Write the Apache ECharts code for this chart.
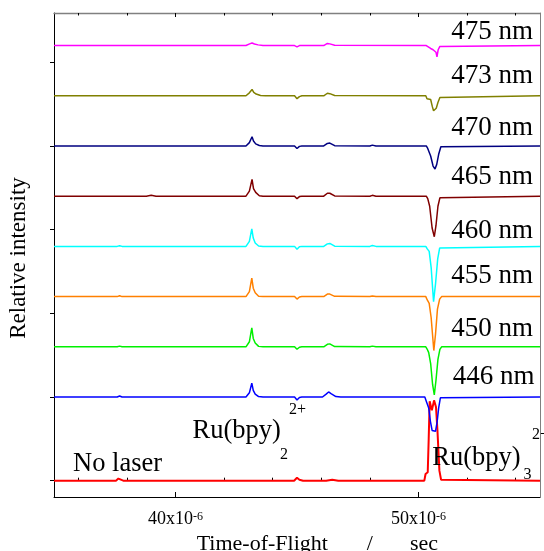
<!DOCTYPE html>
<html>
<head>
<meta charset="utf-8">
<script src="https://cdn.jsdelivr.net/npm/echarts@6/dist/echarts.min.js"></script>
<style>
html, body { margin: 0; padding: 0; background: #fff; }
#chart { width: 544px; height: 551px; }
</style>
</head>
<body>
<div id="chart"></div>
<script>
// ---- Axis values (time of flight in microseconds, intensity in arbitrary units) ----
const timeMin = 35;
const timeMax = 55;
const timeMajorTicks = [40, 50];
const timeMinorTicks = [36, 38, 42, 44, 46, 48, 52, 54];
const intensityTicks = [0, 1, 2, 3, 4, 5];
const intensityMin = -0.195;
const intensityMax = 5.589;

// ---- Traces, bottom to top; each point is [time (us), relative signal] ----
const traceNames = ['No laser', '446 nm', '450 nm', '455 nm', '460 nm', '465 nm', '470 nm', '473 nm', '475 nm'];
const traceOffsets = [0, 1.0, 1.6, 2.2, 2.8, 3.4, 4.0, 4.6, 5.2];

const noLaser = [[35,0],[37.55,0],[37.65,0.025],[37.72,0.008],[37.85,0],[44.88,0],[45.0,0.035],[45.1,0.012],[45.25,0],
  [46.2,0],[46.45,0.012],[46.7,0],[50.24,0],[50.29,0.08],[50.38,0.1],[50.42,0.5],[50.46,0.95],[50.55,0.84],
  [50.64,0.96],[50.72,0.88],[50.78,0.6],[50.86,0.12],[50.93,0.01],[51.0,0],[55,0]];

const nm446 = [[35,0],[37.6,0],[37.7,0.012],[37.8,0],[42.9,0],[43.04,0.05],[43.14,0.165],[43.2,0.08],[43.28,0.035],
  [43.42,0.005],[43.6,0],[44.9,0],[45.0,-0.035],[45.1,-0.005],[45.2,0],[46.05,0],[46.2,0.035],[46.3,0.06],[46.4,0.04],
  [46.6,0.005],[46.8,0],[50.26,0],[50.32,-0.05],[50.42,-0.13],[50.49,-0.29],[50.56,-0.4],[50.7,-0.41],[50.77,-0.29],
  [50.83,-0.13],[50.9,-0.01],[50.98,0],[55,0]];

const nm450 = [[35,0],[37.6,0],[37.7,0.008],[37.8,0],[42.9,0],[43.04,0.06],[43.14,0.227],[43.2,0.1],[43.28,0.045],
  [43.42,0.005],[43.6,0],[44.9,0],[45.0,-0.03],[45.1,-0.005],[45.2,0],[46.1,0],[46.25,0.03],[46.35,0.035],[46.55,0.003],
  [48.0,0],[48.1,0.008],[48.25,0],[50.3,0],[50.36,-0.03],[50.42,-0.07],[50.5,-0.2],[50.58,-0.45],[50.65,-0.575],
  [50.72,-0.4],[50.8,-0.15],[50.88,-0.03],[50.95,0],[55,0]];

const nm455 = [[35,0],[37.6,0],[37.7,0.01],[37.8,0],[42.9,0],[43.04,0.06],[43.14,0.22],[43.2,0.1],[43.28,0.045],
  [43.42,0.005],[43.6,0],[44.9,0],[45.0,-0.03],[45.1,-0.005],[45.2,0],[46.1,0],[46.25,0.03],[46.35,0.03],[46.55,0.003],
  [48.0,0],[48.1,0.008],[48.25,0],[50.3,0],[50.36,-0.04],[50.44,-0.08],[50.52,-0.25],[50.63,-0.645],[50.7,-0.45],
  [50.78,-0.15],[50.87,-0.03],[50.95,0],[55,0]];

const nm460 = [[35,0],[37.6,0],[37.7,0.008],[37.8,0],[42.9,0],[43.04,0.06],[43.14,0.21],[43.2,0.1],[43.28,0.04],
  [43.42,0.005],[43.6,0],[44.9,0],[45.0,-0.035],[45.1,-0.005],[45.2,0],[46.1,0],[46.25,0.03],[46.35,0.035],[46.55,0.003],
  [48.0,0],[48.1,0.01],[48.25,0],[50.3,0],[50.36,-0.03],[50.44,-0.06],[50.52,-0.25],[50.62,-0.66],[50.7,-0.45],
  [50.79,-0.15],[50.87,-0.02],[50.95,0],[55,0]];

const nm465 = [[35,0],[38.8,0],[39.0,0.01],[39.2,0],[42.9,0],[43.04,0.06],[43.15,0.2],[43.21,0.09],[43.3,0.045],
  [43.45,0.005],[43.6,0],[44.9,0],[45.0,-0.03],[45.1,-0.005],[45.2,0],[46.1,0],[46.25,0.035],[46.35,0.035],[46.55,0.003],
  [48.0,0],[48.1,0.01],[48.25,0],[50.32,0],[50.38,-0.03],[50.46,-0.12],[50.56,-0.38],[50.65,-0.485],[50.72,-0.35],
  [50.8,-0.12],[50.88,-0.02],[50.95,0],[55,0]];

const nm470 = [[35,0],[42.9,0],[43.04,0.04],[43.15,0.11],[43.21,0.06],[43.3,0.025],[43.45,0.005],[43.6,0],
  [44.9,0],[45.0,-0.03],[45.1,-0.005],[45.2,0],[46.1,0],[46.25,0.03],[46.35,0.035],[46.55,0.003],
  [48.0,0],[48.1,0.01],[48.25,0],[50.32,0],[50.38,-0.03],[50.5,-0.12],[50.6,-0.24],[50.68,-0.275],[50.75,-0.22],
  [50.83,-0.1],[50.92,-0.01],[51.0,0],[55,0]];

const nm473 = [[35,0],[42.9,0],[43.04,0.035],[43.15,0.075],[43.22,0.04],[43.32,0.02],[43.5,0.003],[43.7,0],
  [44.9,0],[45.0,-0.035],[45.1,-0.01],[45.2,0],[46.1,0],[46.25,0.03],[46.35,0.025],[46.55,0.003],
  [50.3,0],[50.35,-0.035],[50.5,-0.045],[50.57,-0.13],[50.62,-0.18],[50.68,-0.17],[50.73,-0.15],[50.8,-0.08],
  [50.88,-0.02],[50.96,0],[55,0]];

const nm475 = [[35,0],[42.9,0],[43.05,0.02],[43.15,0.03],[43.25,0.018],[43.4,0.008],[43.6,0],
  [44.9,0],[45.0,-0.015],[45.1,0],[46.1,0],[46.25,0.025],[46.35,0.02],[46.55,0.003],
  [50.32,0],[50.38,-0.015],[50.5,-0.035],[50.6,-0.05],[50.66,-0.035],[50.72,-0.08],[50.76,-0.135],[50.81,-0.05],
  [50.88,-0.01],[50.95,0],[55,0]];

const traces = [noLaser, nm446, nm450, nm455, nm460, nm465, nm470, nm473, nm475];

// ---- Styling ----
const traceColors = ['#ff0000', '#0000ff', '#00f000', '#ff8000', '#00ffff', '#800000', '#000080', '#808000', '#ff00ff'];
const traceWidths = [2, 1.5, 1.5, 1.5, 1.5, 1.5, 1.5, 1.5, 1.5];
const serif = '"Liberation Serif", "Times New Roman", serif';

const series = traces.map((pts, i) => ({
  name: traceNames[i],
  type: 'line',
  xAxisIndex: 0,
  yAxisIndex: 0,
  data: pts.map(([t, v]) => [t, v + traceOffsets[i]]),
  showSymbol: false,
  symbol: 'none',
  silent: true,
  z: 2 + i,
  lineStyle: { color: traceColors[i], width: traceWidths[i] },
  itemStyle: { color: traceColors[i] }
}));

// Text annotations: [text, x, y, align, fontSize]
const annotations = [
  ['475 nm', 533, 31.9, 'right', 27],
  ['473 nm', 533, 76.4, 'right', 27],
  ['470 nm', 533, 128.3, 'right', 27],
  ['465 nm', 533, 176.9, 'right', 27],
  ['460 nm', 533, 231.1, 'right', 27],
  ['455 nm', 533, 276.4, 'right', 27],
  ['450 nm', 533, 329.0, 'right', 27],
  ['446 nm', 534.5, 376.9, 'right', 27],
  ['No laser', 73, 464.3, 'left', 26.5],
  ['Ru(bpy)', 192.5, 431.0, 'left', 26.5],
  ['2', 280, 454.6, 'left', 16],
  ['2+', 289, 409.6, 'left', 16],
  ['Ru(bpy)', 432.2, 457.7, 'left', 26.5],
  ['3', 523.6, 474.6, 'left', 16],
  ['2+', 532, 434.3, 'left', 16],
  ['Time-of-Flight', 196.7, 544, 'left', 22],
  ['/', 366.7, 544, 'left', 22],
  ['sec', 410, 544, 'left', 22]
];

const graphic = annotations.map(([text, x, y, align, size]) => ({
  type: 'text',
  x: x,
  y: y,
  silent: true,
  z: 100,
  style: {
    text: text,
    fill: '#000',
    font: size + 'px ' + serif,
    align: align,
    verticalAlign: 'middle'
  }
}));
graphic.push({
  type: 'text',
  x: 19,
  y: 258,
  rotation: Math.PI / 2,
  silent: true,
  z: 100,
  style: {
    text: 'Relative intensity',
    fill: '#000',
    font: '23px ' + serif,
    align: 'center',
    verticalAlign: 'middle'
  }
});

const gridRect = { left: 54, right: 4, top: 13, bottom: 54 };

function timeAxis(gridIndex, position, opts) {
  return Object.assign({
    type: 'value',
    gridIndex: gridIndex,
    position: position,
    min: timeMin,
    max: timeMax,
    splitLine: { show: false },
    axisLabel: { show: false },
    axisLine: { show: false },
    axisTick: { show: false }
  }, opts);
}

const option = {
  animation: false,
  backgroundColor: '#fff',
  grid: [
    Object.assign({}, gridRect),
    Object.assign({}, gridRect)
  ],
  xAxis: [
    timeAxis(0, 'bottom', {
      axisLine: { show: true, onZero: false, lineStyle: { color: '#000', width: 1 } },
      axisTick: { show: true, inside: true, length: 5, customValues: timeMajorTicks, lineStyle: { color: '#000' } },
      axisLabel: {
        show: true,
        customValues: timeMajorTicks,
        margin: 13.5,
        formatter: v => '{m|' + v + 'x10}{s|-6}',
        rich: {
          m: { fontFamily: serif, fontSize: 18, lineHeight: 18, color: '#000' },
          s: { fontFamily: serif, fontSize: 12, lineHeight: 7, verticalAlign: 'top', color: '#000' }
        }
      }
    }),
    timeAxis(0, 'top', {
      axisLine: { show: true, onZero: false, lineStyle: { color: '#808080', width: 1.3 } },
      axisTick: { show: true, inside: true, length: 4, customValues: timeMajorTicks, lineStyle: { color: '#000' } }
    }),
    timeAxis(1, 'bottom', {
      axisTick: { show: true, inside: true, length: 3, customValues: timeMinorTicks, lineStyle: { color: '#000' } }
    }),
    timeAxis(1, 'top', {
      axisTick: { show: true, inside: true, length: 2.5, customValues: timeMinorTicks, lineStyle: { color: '#000' } }
    })
  ],
  yAxis: [
    {
      type: 'value', gridIndex: 0, position: 'left',
      min: intensityMin, max: intensityMax,
      splitLine: { show: false },
      axisLabel: { show: false },
      axisLine: { show: true, onZero: false, lineStyle: { color: '#000', width: 1 } },
      axisTick: { show: true, inside: false, length: 4, customValues: intensityTicks, lineStyle: { color: '#000' } }
    },
    {
      type: 'value', gridIndex: 0, position: 'right',
      min: intensityMin, max: intensityMax,
      splitLine: { show: false },
      axisLabel: { show: false },
      axisTick: { show: false },
      axisLine: { show: true, onZero: false, lineStyle: { color: '#808080', width: 1 } }
    },
    {
      type: 'value', gridIndex: 1,
      min: intensityMin, max: intensityMax,
      show: false
    }
  ],
  series: series,
  graphic: graphic
};

const chart = echarts.init(document.getElementById('chart'), null, { renderer: 'canvas' });
chart.setOption(option);
</script>
</body>
</html>
